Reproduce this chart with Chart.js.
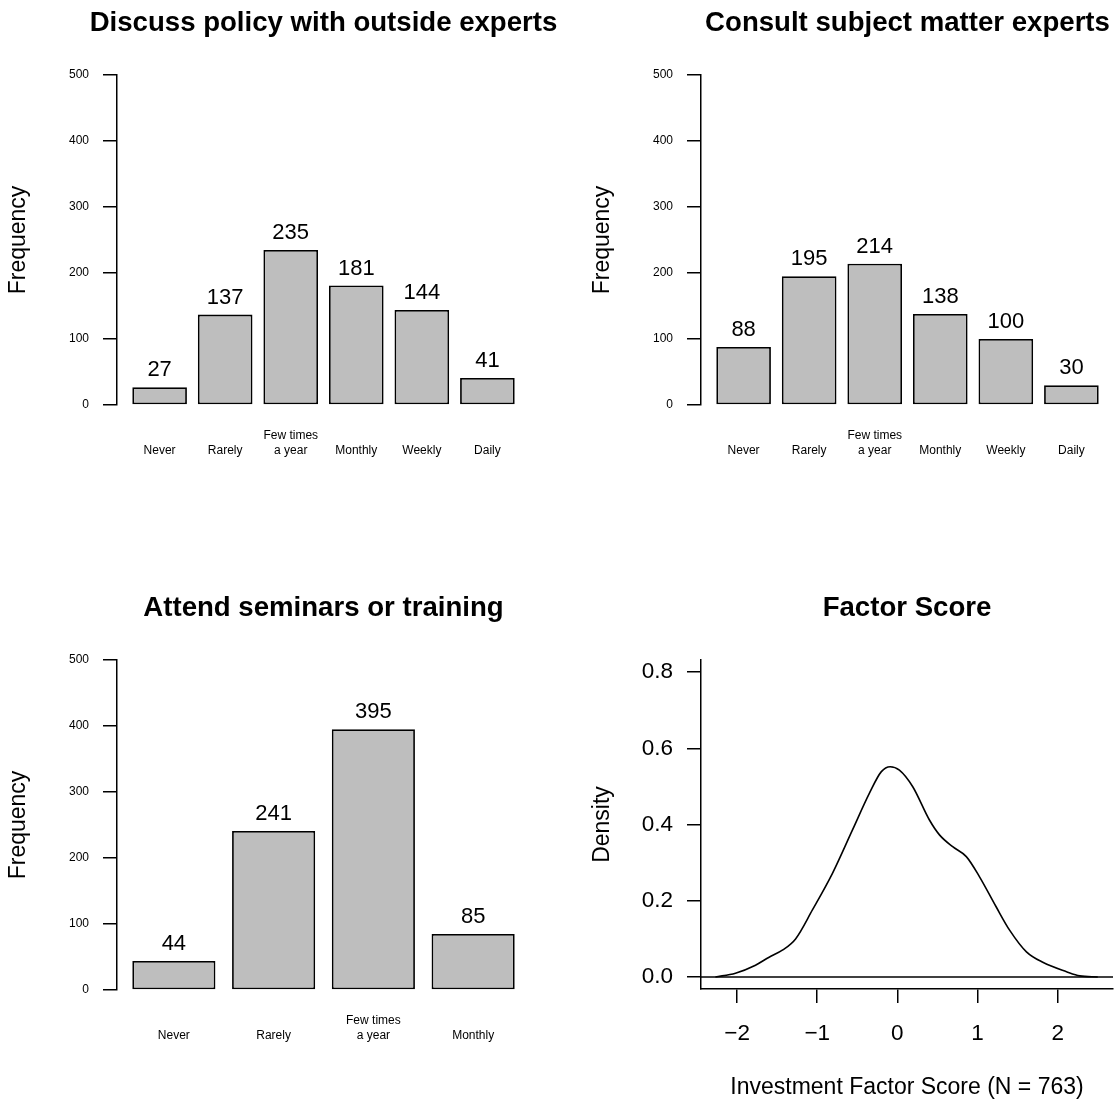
<!DOCTYPE html>
<html>
<head>
<meta charset="utf-8">
<script src="https://cdn.jsdelivr.net/npm/chart.js@4.4.1/dist/chart.umd.min.js"></script>
<style>
body { margin: 0; background: #fff; }
#quadro { position: relative; width: 1117px; height: 1101px; }
canvas { position: absolute; }
</style>
</head>
<body>
<div id="quadro">
    <canvas id="g1" width="584" height="585" style="left:0;top:0"></canvas>
    <canvas id="g2" width="533" height="585" style="left:584px;top:0"></canvas>
    <canvas id="g3" width="584" height="516" style="left:0;top:585px"></canvas>
    <canvas id="g4" width="533" height="516" style="left:584px;top:585px"></canvas>
</div>
<script>
// dados
const rotulos6 = ['Never', 'Rarely', 'Few times\na year', 'Monthly', 'Weekly', 'Daily'];
const rotulos4 = ['Never', 'Rarely', 'Few times\na year', 'Monthly'];
const discussValores = [27, 137, 235, 181, 144, 41];
const consultValores = [88, 195, 214, 138, 100, 30];
const seminarValores = [44, 241, 395, 85];
const ticksFreq = [0, 100, 200, 300, 400, 500];

const densidadeX = [-2.27, -2.02, -1.77, -1.6, -1.43, -1.27, -1.06, -0.81, -0.56, -0.35, -0.2, -0.09, 0.025, 0.19, 0.4, 0.525, 0.69, 0.86, 1.025, 1.23, 1.4, 1.61, 1.82, 2.11, 2.275, 2.5];
const densidadeY = [0, 0.01, 0.031, 0.052, 0.071, 0.1, 0.176, 0.272, 0.386, 0.482, 0.539, 0.552, 0.543, 0.5, 0.412, 0.373, 0.342, 0.316, 0.263, 0.185, 0.123, 0.066, 0.038, 0.014, 0.003, 0];
const ticksDensX = [-2, -1, 0, 1, 2];
const ticksDensY = [0, 0.2, 0.4, 0.6, 0.8];
const limitesDensX = [-2.45, 2.69];
const limitesDensY = [-0.0315, 0.832];

const fonte = '"Liberation Sans", Arial, Helvetica, sans-serif';
Chart.defaults.font.family = fonte;
Chart.defaults.color = '#000';

const rotulosValores = {
    id: 'rotulosValores',
    afterDatasetsDraw(chart) {
        const ctx = chart.ctx;
        const meta = chart.getDatasetMeta(0);
        const dados = chart.data.datasets[0].data;
        ctx.save();
        ctx.font = '22px ' + fonte;
        ctx.fillStyle = '#000';
        ctx.textAlign = 'center';
        ctx.textBaseline = 'alphabetic';
        meta.data.forEach((barra, i) => {
            ctx.fillText(String(dados[i].y), barra.x, barra.y - 11);
        });
        ctx.restore();
    }
};

// titulo centrado na area do grafico, sem limite de largura
const tituloCentral = {
    id: 'tituloCentral',
    afterDraw(chart, args, opts) {
        const ctx = chart.ctx;
        const area = chart.chartArea;
        ctx.save();
        ctx.font = 'bold 27.6px ' + fonte;
        ctx.fillStyle = '#000';
        ctx.textAlign = 'center';
        ctx.textBaseline = 'middle';
        ctx.fillText(opts.text, (area.left + area.right) / 2, 23.5);
        ctx.restore();
    }
};

function graficoBarras(id, titulo, rotulos, valores, padDireita) {
    const canvas = document.getElementById(id);
    const n = rotulos.length;
    const ext = 0.04 * (1.2 * n - 0.2);
    new Chart(canvas, {
        type: 'bar',
        data: {
            datasets: [{
                data: valores.map((v, i) => ({ x: 0.7 + 1.2 * i, y: v })),
                backgroundColor: '#bebebe',
                borderColor: '#000',
                borderWidth: 1.8,
                borderSkipped: false,
                barPercentage: 1 / 1.2,
                categoryPercentage: 1
            }]
        },
        options: {
            responsive: false,
            animation: false,
            devicePixelRatio: 1,
            layout: { padding: { left: 0, right: padDireita, top: 75, bottom: 0 } },
            plugins: {
                legend: { display: false },
                tooltip: { enabled: false },
                title: { display: false },
                tituloCentral: { text: titulo }
            },
            scales: {
                x: {
                    type: 'linear',
                    offset: false,
                    min: 0.2 - ext,
                    max: 1.2 * n + ext,
                    grid: { display: false, drawTicks: false, offset: false },
                    border: { display: false },
                    afterBuildTicks: eixo => {
                        eixo.ticks = rotulos.map((r, i) => ({ value: 0.7 + 1.2 * i }));
                    },
                    afterFit: eixo => { eixo.height = canvas.height - 405; },
                    ticks: {
                        autoSkip: false,
                        maxRotation: 0,
                        padding: 23.5,
                        font: { size: 12, lineHeight: 1.25 },
                        callback: (valor, i) => {
                            const partes = rotulos[i].split('\n');
                            return partes.length > 1 ? partes : ['', partes[0]];
                        }
                    }
                },
                y: {
                    min: 0,
                    max: 500,
                    afterBuildTicks: eixo => {
                        eixo.ticks = ticksFreq.map(v => ({ value: v }));
                    },
                    afterFit: eixo => { eixo.width = 117; },
                    grid: { drawOnChartArea: false, drawTicks: true, tickLength: 14, color: '#000', lineWidth: 1.5 },
                    border: { display: true, color: '#000', width: 1.5 },
                    ticks: { padding: 14, font: { size: 12 } },
                    title: { display: true, text: 'Frequency', font: { size: 23 }, padding: { top: 5, bottom: 0 } }
                }
            }
        },
        plugins: [rotulosValores, tituloCentral]
    });
}

graficoBarras('g1', 'Discuss policy with outside experts', rotulos6, discussValores, 54);
graficoBarras('g2', 'Consult subject matter experts', rotulos6, consultValores, 3);
graficoBarras('g3', 'Attend seminars or training', rotulos4, seminarValores, 54);

//Grafico densidade
const canvasDens = document.getElementById('g4');
new Chart(canvasDens, {
    type: 'line',
    data: {
        datasets: [{
            data: densidadeX.map((x, i) => ({ x: x, y: densidadeY[i] })),
            borderColor: '#000',
            borderWidth: 1.6,
            pointRadius: 0,
            fill: false,
            cubicInterpolationMode: 'monotone'
        }, {
            data: [{ x: limitesDensX[0], y: 0 }, { x: limitesDensX[1], y: 0 }],
            borderColor: '#000',
            borderWidth: 1.5,
            pointRadius: 0,
            fill: false
        }]
    },
    options: {
        responsive: false,
        animation: false,
        devicePixelRatio: 1,
        layout: { padding: { left: 0, right: 4, top: 75, bottom: 0 } },
        plugins: {
            legend: { display: false },
            tooltip: { enabled: false },
            title: { display: false },
            tituloCentral: { text: 'Factor Score' }
        },
        scales: {
            x: {
                type: 'linear',
                min: limitesDensX[0],
                max: limitesDensX[1],
                afterBuildTicks: eixo => {
                    eixo.ticks = ticksDensX.map(v => ({ value: v }));
                },
                afterFit: eixo => { eixo.height = canvasDens.height - 404; },
                grid: { drawOnChartArea: false, drawTicks: true, tickLength: 14, color: '#000', lineWidth: 1.5 },
                border: { display: true, color: '#000', width: 1.5 },
                ticks: {
                    autoSkip: false,
                    maxRotation: 0,
                    padding: 17.5,
                    font: { size: 22.5 },
                    callback: v => String(v).replace('-', '\u2212')
                },
                title: { display: true, text: 'Investment Factor Score (N = 763)', font: { size: 23 }, padding: { top: 0, bottom: 0 } }
            },
            y: {
                min: limitesDensY[0],
                max: limitesDensY[1],
                afterBuildTicks: eixo => {
                    eixo.ticks = ticksDensY.map(v => ({ value: v }));
                },
                afterFit: eixo => { eixo.width = 117; },
                grid: { drawOnChartArea: false, drawTicks: true, tickLength: 14, color: '#000', lineWidth: 1.5 },
                border: { display: true, color: '#000', width: 1.5 },
                ticks: { padding: 14, font: { size: 22.5 }, callback: v => v.toFixed(1) },
                title: { display: true, text: 'Density', font: { size: 23 }, padding: { top: 5, bottom: 0 } }
            }
        }
    },
    plugins: [tituloCentral]
});
</script>
</body>
</html>
